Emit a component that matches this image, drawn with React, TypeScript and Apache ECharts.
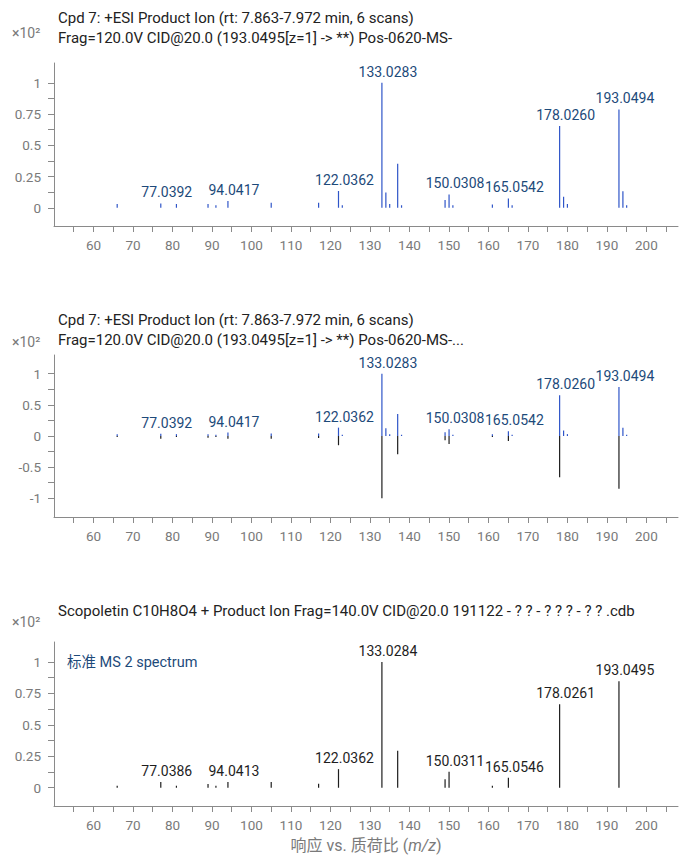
import React, { useEffect, useRef } from "react";
import * as echarts from "echarts";

// Sample spectrum (Cpd 7), intensities in units of x10^2
const sampleMz = [66.0, 77.0392, 81.0, 89.0, 91.0, 94.0417, 105.0, 117.0, 122.0362, 123.0, 133.0283, 134.03, 135.0, 137.02, 138.0, 149.02, 150.0308, 151.0, 161.0, 165.0542, 166.0, 178.026, 179.03, 180.0, 193.0494, 194.05, 195.0];
const sampleInt = [0.03, 0.035, 0.03, 0.03, 0.02, 0.055, 0.04, 0.04, 0.134, 0.02, 1.0, 0.123, 0.03, 0.352, 0.02, 0.062, 0.107, 0.02, 0.027, 0.075, 0.02, 0.654, 0.088, 0.03, 0.787, 0.133, 0.02];
const sampleLabels = ["", "77.0392", "", "", "", "94.0417", "", "", "122.0362", "", "133.0283", "", "", "", "", "", "150.0308", "", "", "165.0542", "", "178.0260", "", "", "193.0494", "", ""];

// Reference standard spectrum (Scopoletin)
const refMz = [66.0, 77.0386, 81.0, 89.0, 91.0, 94.0413, 105.0, 117.0, 122.0362, 133.0284, 137.02, 149.02, 150.0311, 161.0, 165.0546, 178.0261, 193.0495];
const refInt = [0.016, 0.045, 0.016, 0.03, 0.016, 0.045, 0.045, 0.032, 0.148, 1.0, 0.294, 0.067, 0.127, 0.016, 0.079, 0.664, 0.847];
const refLabels = ["", "77.0386", "", "", "", "94.0413", "", "", "122.0362", "133.0284", "", "", "150.0311", "", "165.0546", "178.0261", "193.0495"];

const xTicks = [55, 60, 65, 70, 75, 80, 85, 90, 95, 100, 105, 110, 115, 120, 125, 130, 135, 140, 145, 150, 155, 160, 165, 170, 175, 180, 185, 190, 195, 200, 205];
const xLabels = [60, 70, 80, 90, 100, 110, 120, 130, 140, 150, 160, 170, 180, 190, 200];
const yTicksPos = [0, 0.125, 0.25, 0.375, 0.5, 0.625, 0.75, 0.875, 1];
const yLabelsPos = [0, 0.25, 0.5, 0.75, 1];
const yTicksMirror = [-1, -0.75, -0.5, -0.25, 0, 0.25, 0.5, 0.75, 1];
const yLabelsMirror = [-1, -0.5, 0, 0.5, 1];

const title1a = "Cpd 7: +ESI Product Ion (rt: 7.863-7.972 min, 6 scans)";
const title1b = "Frag=120.0V CID@20.0 (193.0495[z=1] -> **) Pos-0620-MS-";
const title2b = "Frag=120.0V CID@20.0 (193.0495[z=1] -> **) Pos-0620-MS-...";
const title3 = "Scopoletin C10H8O4 + Product Ion Frag=140.0V CID@20.0 191122 - ? ? - ? ? ? - ? ? .cdb";

const BLUE = "#2f55c8";
const LABEL_BLUE = "#1d4a7a";
const BLACK = "#1e1e1e";
const GRAY = "#8a8a8a";
const TICK_TEXT = "#7a7a7a";
const FONT = "Roboto, 'Noto Sans CJK SC', sans-serif";

function makeRender(color: string, labelColor: string, labels: string[], sign: number) {
  return (params: any, api: any) => {
    const x = api.value(0);
    const y = api.value(1) * sign;
    const base = api.coord([x, 0]);
    const top = api.coord([x, y]);
    const children: any[] = [
      {
        type: "line",
        shape: { x1: base[0], y1: base[1], x2: top[0], y2: top[1] },
        style: { stroke: color, lineWidth: 1.2 },
      },
    ];
    const lab = labels[params.dataIndex];
    if (lab && sign > 0) {
      children.push({
        type: "text",
        x: top[0] + 6,
        y: top[1] - 11,
        style: {
          text: lab,
          fill: labelColor,
          font: "14px " + FONT,
          textAlign: "center",
          textVerticalAlign: "middle",
        },
      });
    }
    return { type: "group", children };
  };
}

function xAxisCfg(gridIndex: number, withName: boolean) {
  const cfg: any = {
    type: "value",
    gridIndex,
    min: 50,
    max: 208,
    axisLine: { show: true, onZero: false, lineStyle: { color: GRAY, width: 1 } },
    axisTick: { show: true, length: 6, lineStyle: { color: GRAY }, customValues: xTicks },
    axisLabel: { color: TICK_TEXT, fontSize: 13.5, fontFamily: FONT, margin: 12, customValues: xLabels },
    splitLine: { show: false },
  };
  if (withName) {
    cfg.name = "响应 vs. 质荷比 ({i|m/z})";
    cfg.nameLocation = "middle";
    cfg.nameGap = 31;
    cfg.nameTextStyle = {
      color: TICK_TEXT,
      fontSize: 16,
      fontFamily: FONT,
      rich: { i: { fontStyle: "italic", color: TICK_TEXT, fontSize: 16, fontFamily: FONT } },
    };
  }
  return cfg;
}

function yAxisCfg(gridIndex: number, min: number, max: number, ticks: number[], labels: number[]) {
  return {
    type: "value",
    gridIndex,
    min,
    max,
    axisLine: { show: true, onZero: false, lineStyle: { color: GRAY, width: 1 } },
    axisTick: { show: true, length: 6, lineStyle: { color: GRAY }, customValues: ticks },
    axisLabel: { color: TICK_TEXT, fontSize: 13.5, fontFamily: FONT, margin: 13, customValues: labels },
    splitLine: { show: false },
  };
}

function txt(text: string, x: number, y: number, color: string, size: number) {
  return {
    type: "text",
    x,
    y,
    style: { text, fill: color, font: size + "px " + FONT, textVerticalAlign: "middle" },
  };
}

export default function App() {
  const ref = useRef<HTMLDivElement>(null);
  useEffect(() => {
    if (!ref.current) return;
    const chart = echarts.init(ref.current, null, { renderer: "svg" });
    const sampleData = sampleMz.map((m, i) => [m, sampleInt[i]]);
    const refData = refMz.map((m, i) => [m, refInt[i]]);
    chart.setOption({
      animation: false,
      backgroundColor: "#ffffff",
      grid: [
        { left: 54, top: 63, width: 624, height: 163 },
        { left: 54, top: 355, width: 624, height: 162 },
        { left: 54, top: 642, width: 624, height: 164 },
      ],
      xAxis: [xAxisCfg(0, false), xAxisCfg(1, false), xAxisCfg(2, true)],
      yAxis: [
        yAxisCfg(0, -0.146, 1.158, yTicksPos, yLabelsPos),
        yAxisCfg(1, -1.3, 1.3, yTicksMirror, yLabelsMirror),
        yAxisCfg(2, -0.145, 1.158, yTicksPos, yLabelsPos),
      ],
      series: [
        { type: "custom", xAxisIndex: 0, yAxisIndex: 0, data: sampleData, renderItem: makeRender(BLUE, LABEL_BLUE, sampleLabels, 1) },
        { type: "custom", xAxisIndex: 1, yAxisIndex: 1, data: refData, renderItem: makeRender(BLACK, BLACK, refLabels, -1) },
        { type: "custom", xAxisIndex: 1, yAxisIndex: 1, data: sampleData, renderItem: makeRender(BLUE, LABEL_BLUE, sampleLabels, 1) },
        { type: "custom", xAxisIndex: 2, yAxisIndex: 2, data: refData, renderItem: makeRender(BLACK, BLACK, refLabels, 1) },
      ],
      graphic: [
        txt(title1a, 58, 18, "#222222", 15),
        txt(title1b, 58, 38, "#222222", 15),
        txt("×10²", 12, 33, TICK_TEXT, 14),
        txt(title1a, 58, 320, "#222222", 15),
        txt(title2b, 58, 340, "#222222", 15),
        txt("×10²", 12, 342, TICK_TEXT, 14),
        txt(title3, 58, 611, "#222222", 15),
        txt("×10²", 12, 622, TICK_TEXT, 14),
        txt("标准 MS 2 spectrum", 67, 662, LABEL_BLUE, 14.5),
      ],
    });
    return () => chart.dispose();
  }, []);
  return <div ref={ref} style={{ position: "fixed", left: 0, top: 0, width: 684, height: 856 }} />;
}
